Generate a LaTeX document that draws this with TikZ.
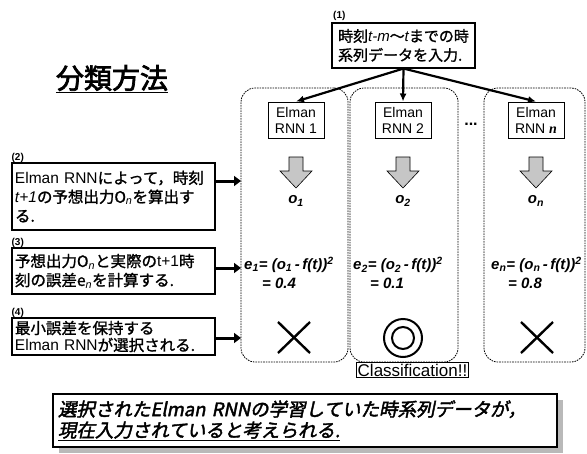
\documentclass[tikz,border=0pt]{standalone}
\usepackage{fontspec}
\setmainfont{Liberation Sans}
\newfontfamily\jp[FakeBold=1.3]{Noto Sans CJK JP}
\newfontfamily\jpb[FakeBold=2.5]{Noto Sans CJK JP}
\newfontfamily\jpbi[FakeBold=2.2,FakeSlant=0.2]{Noto Sans CJK JP}
\newfontfamily\serifbi{Liberation Serif}
\usetikzlibrary{arrows.meta}
\newcommand{\myit}[1]{{\rmfamily\itshape #1}}
\newcommand{\mysub}[1]{\textsubscript{\rmfamily\itshape #1}}
\tikzset{
  col/.style={draw, dash pattern=on 1.6pt off 1pt, line width=0.8pt, rounded corners=14pt, inner sep=0pt, outer sep=0pt},
  rnn/.style={draw, line width=1pt, minimum width=56, minimum height=36, inner sep=1pt, align=center, font=\fontsize{14}{16}\selectfont},
  stepbox/.style={draw, line width=1.1pt, minimum width=203, text width=197, align=left, inner sep=3pt, font=\jp\fontsize{15.5}{19}\selectfont},
  steplab/.style={anchor=south west, inner sep=0pt, font=\bfseries\fontsize{10}{10}\selectfont},
  toparrow/.style={line width=2.2pt, -{Latex[length=8pt,width=7pt]}},
  sidearrow/.style={line width=3pt, -{Triangle[length=7pt,width=10pt]}},
  fat/.style={draw=black, line width=0.6pt, fill=gray!45},
  olab/.style={font=\bfseries\itshape\fontsize{15}{15}\selectfont},
  form/.style={anchor=west, inner sep=0pt, font=\bfseries\itshape\fontsize{15}{15}\selectfont},
  xmark/.style={line width=2.4pt}
}
\begin{document}
\begin{tikzpicture}[x=1pt,y=-1pt]
\useasboundingbox (0,0) rectangle (587,453);
% title
\node (title) at (112,79) {\jpb\fontsize{28}{28}\selectfont\underline{分類方法}};
% top input box
\node[steplab] (l1) at (333,21) {(1)};
\node[draw, line width=1.1pt, minimum width=143, minimum height=45, align=left, inner sep=2pt, font=\jp\fontsize{15}{19}\selectfont] (in) at (403.5,45.5)
  {時刻\myit{t-m}～\myit{t}までの時\\系列データを入力.};
% columns
\node[col, minimum width=107, minimum height=274] (c1) at (294.5,225) {};
\node[col, minimum width=108, minimum height=274] (c2) at (404,225) {};
\node[col, minimum width=101, minimum height=274] (c3) at (534.5,225) {};
% RNN boxes
\node[rnn] (r1) at (296,120) {Elman\\RNN 1};
\node[rnn] (r2) at (403,120) {Elman\\RNN 2};
\node[rnn] (rn) at (536,120) {Elman\\RNN {\serifbi\bfseries\itshape n}};
\node (dots) at (471,124) {\bfseries\fontsize{16}{16}\selectfont ...};
% top arrows
\draw[toparrow] (in.south) -- (r1.north);
\draw[toparrow] (in.south) -- (r2.north);
\draw[toparrow] (in.south) -- (rn.north);
% fat arrows
\foreach \cx in {296,403,536}{
  \draw[fat] (\cx-7,157) -- (\cx+7,157) -- (\cx+7,171) -- (\cx+16,171) -- (\cx,188) -- (\cx-16,171) -- (\cx-7,171) -- cycle;
}
% outputs
\node[olab] (o1) at (296,201) {o\mysub{1}};
\node[olab] (o2) at (403,201) {o\textsubscript{2}};
\node[olab] (on) at (536,201) {o\textsubscript{n}};
% errors
\node[form] (e1) at (244,265) {e\textsubscript{1}= (o\textsubscript{1}\,-\,f(t))\textsuperscript{2}};
\node[form] (v1) at (262,283) {= 0.4};
\node[form] (e2) at (353,265) {e\textsubscript{2}= (o\textsubscript{2}\,-\,f(t))\textsuperscript{2}};
\node[form] (v2) at (370,283) {= 0.1};
\node[form] (en) at (491,265) {e\textsubscript{n}= (o\textsubscript{n}\,-\,f(t))\textsuperscript{2}};
\node[form] (vn) at (508,283) {= 0.8};
% marks
\draw[xmark] (278,322) -- (310,353) (278,353) -- (310,322);
\draw[xmark] (521,322) -- (553,353) (521,353) -- (553,322);
\draw[line width=2pt] (403,338) circle (19) (403,338) circle (11);
\node[draw, line width=0.7pt, inner sep=1pt, font=\fontsize{17}{17}\selectfont] (cls) at (412.5,370) {Classification!!};
% left step boxes
\node[stepbox, minimum height=67] (b2) at (113.5,196.5)
  {{\rmfamily Elman RNN}によって，時刻\\\myit{t+1}の予想出力O\mysub{n}を算出す\\る.};
\node[steplab] at (b2.north west) {(2)};
\node[stepbox, minimum height=46] (b3) at (113.5,271)
  {予想出力O\mysub{n}と実際の{\rmfamily t+1}時\\刻の誤差e\mysub{n}を計算する.};
\node[steplab] at (b3.north west) {(3)};
\node[stepbox, minimum height=37, inner sep=1pt, font=\jp\fontsize{15.5}{17}\selectfont] (b4) at (113.5,336.5)
  {最小誤差を保持する\\{\rmfamily Elman RNN}が選択される.};
\node[steplab] at (b4.north west) {(4)};
\coordinate (y2) at (0,181);
\coordinate (y3) at (0,268);
\coordinate (y4) at (0,338);
\draw[sidearrow] (b2.east |- y2) -- (c1.west |- y2);
\draw[sidearrow] (b3.east |- y3) -- (c1.west |- y3);
\draw[sidearrow] (b4.east |- y4) -- (c1.west |- y4);
% conclusion
\fill[gray!55] (59,400) rectangle (563,453);
\node[draw, fill=white, line width=1.2pt, minimum width=504, minimum height=53, text width=494, align=left, inner sep=3pt, font=\jpbi\fontsize{18.5}{21}\selectfont] (concl) at (305,420.5)
  {選択されたElman RNNの学習していた時系列データが，\\\underline{現在入力されていると考えられる.}};
\end{tikzpicture}
\end{document}
